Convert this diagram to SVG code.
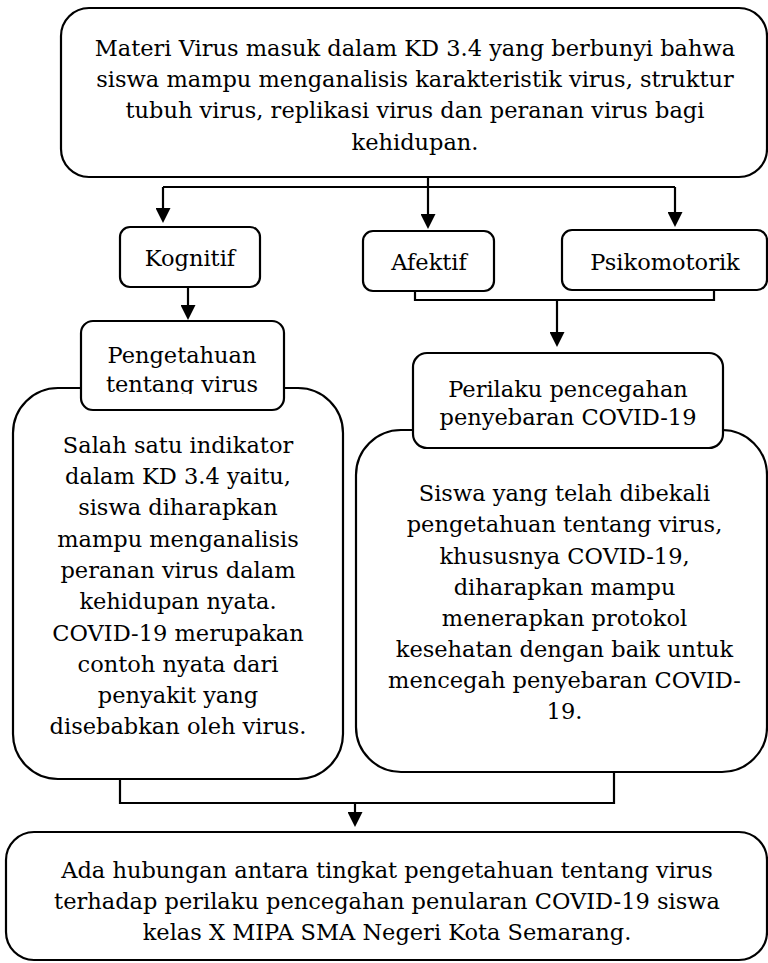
<svg xmlns="http://www.w3.org/2000/svg" width="768" height="963" viewBox="0 0 768 963">
<style>
.box{fill:#fff;stroke:#000;stroke-width:2.2}
.t{font-family:"DejaVu Serif","Liberation Serif",serif;font-size:22.5px;fill:#000;text-anchor:middle}
.c{fill:none;stroke:#000;stroke-width:2.2}
</style>
<defs>
<marker id="arr" markerUnits="userSpaceOnUse" markerWidth="15" markerHeight="15" viewBox="0 0 15 15" refX="7" refY="7.5" orient="auto">
<path d="M0,0 L15,7.5 L0,15 z" fill="#000"/>
</marker>
<clipPath id="clipPeng"><rect x="81" y="321" width="203" height="73"/></clipPath>
</defs>
<rect width="768" height="963" fill="#fff"/>

<g id="connectors">
<path class="c" d="M428,177 V187 M163,187 H675"/>
<path class="c" d="M163,187 V215" marker-end="url(#arr)"/>
<path class="c" d="M428,187 V221" marker-end="url(#arr)"/>
<path class="c" d="M675,187 V219" marker-end="url(#arr)"/>
<path class="c" d="M188,287 V312" marker-end="url(#arr)"/>
<path class="c" d="M415,291 V300 H714 V290"/>
<path class="c" d="M557,300 V339" marker-end="url(#arr)"/>
<path class="c" d="M120,779 V803 H614 V772"/>
<path class="c" d="M355,803 V819" marker-end="url(#arr)"/>
</g>

<g id="node-top">
<rect class="box" x="61" y="8" width="706" height="169" rx="28"/>
<text class="t" x="415" y="56">Materi Virus masuk dalam KD 3.4 yang berbunyi bahwa</text>
<text class="t" x="415" y="87">siswa mampu menganalisis karakteristik virus, struktur</text>
<text class="t" x="415" y="118">tubuh virus, replikasi virus dan peranan virus bagi</text>
<text class="t" x="415" y="150">kehidupan.</text>
</g>

<g id="node-kognitif">
<rect class="box" x="120" y="227" width="140" height="60" rx="10"/>
<text class="t" x="190" y="266">Kognitif</text>
</g>

<g id="node-afektif">
<rect class="box" x="363" y="231" width="131" height="60" rx="10"/>
<text class="t" x="429" y="270">Afektif</text>
</g>

<g id="node-psikomotorik">
<rect class="box" x="562" y="230" width="205" height="60" rx="10"/>
<text class="t" x="665" y="270">Psikomotorik</text>
</g>

<g id="node-left-detail">
<rect class="box" x="13" y="388" width="330" height="391" rx="45"/>
<text class="t" x="178" y="453">Salah satu indikator</text>
<text class="t" x="178" y="484">dalam KD 3.4 yaitu,</text>
<text class="t" x="178" y="515">siswa diharapkan</text>
<text class="t" x="178" y="546.5">mampu menganalisis</text>
<text class="t" x="178" y="578">peranan virus dalam</text>
<text class="t" x="178" y="609">kehidupan nyata.</text>
<text class="t" x="178" y="640.5">COVID-19 merupakan</text>
<text class="t" x="178" y="672">contoh nyata dari</text>
<text class="t" x="178" y="703">penyakit yang</text>
<text class="t" x="178" y="734">disebabkan oleh virus.</text>
</g>

<g id="node-pengetahuan">
<rect class="box" x="81" y="321" width="203" height="89" rx="12"/>
<g clip-path="url(#clipPeng)">
<text class="t" x="182" y="363">Pengetahuan</text>
<text class="t" x="182" y="392">tentang virus</text>
</g>
</g>

<g id="node-right-detail">
<rect class="box" x="356" y="430" width="411" height="342" rx="45"/>
<text class="t" x="564.5" y="501">Siswa yang telah dibekali</text>
<text class="t" x="564.5" y="532">pengetahuan tentang virus,</text>
<text class="t" x="564.5" y="563.5">khususnya COVID-19,</text>
<text class="t" x="564.5" y="594.5">diharapkan mampu</text>
<text class="t" x="564.5" y="626">menerapkan protokol</text>
<text class="t" x="564.5" y="657">kesehatan dengan baik untuk</text>
<text class="t" x="564.5" y="688">mencegah penyebaran COVID-</text>
<text class="t" x="564.5" y="719">19.</text>
</g>

<g id="node-perilaku">
<rect class="box" x="413" y="353" width="310" height="95" rx="14"/>
<text class="t" x="568" y="397">Perilaku pencegahan</text>
<text class="t" x="568" y="425">penyebaran COVID-19</text>
</g>

<g id="node-bottom">
<rect class="box" x="6" y="832" width="761" height="128" rx="28"/>
<text class="t" x="387" y="878">Ada hubungan antara tingkat pengetahuan tentang virus</text>
<text class="t" x="387" y="908.5">terhadap perilaku pencegahan penularan COVID-19 siswa</text>
<text class="t" x="387" y="940">kelas X MIPA SMA Negeri Kota Semarang.</text>
</g>
</svg>
